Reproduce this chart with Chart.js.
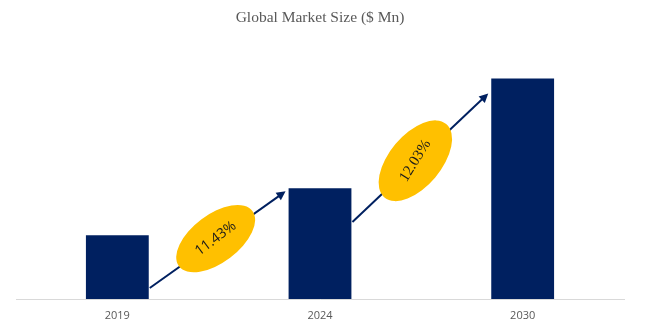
<!DOCTYPE html>
<html>
<head>
<meta charset="utf-8">
<script src="https://cdn.jsdelivr.net/npm/chart.js@4"></script>
<style>
html,body{margin:0;padding:0;background:#fff;}
#wrap{width:649px;height:326px;}
</style>
</head>
<body>
<div id="wrap"><canvas id="c" width="649" height="326"></canvas></div>
<script>
const categories = ["2019", "2024", "2030"];
const marketSize = [64, 111, 221];
const cagrLabels = ["11.43%", "12.03%"];

const NAVY = "#002060";
const GOLD = "#FFC000";

const annotPlugin = {
  id: "cagrArrows",
  afterDatasetsDraw(chart) {
    const ctx = chart.ctx;
    const bars = chart.getDatasetMeta(0).data;
    const cfg = [
      {from:0, to:1, sUp:11, eDown:3, rx:46, ry:24, rot:-37, trot:-37, font:"14px 'Open Sans', 'Liberation Sans', sans-serif", dx:-2, dy:-1},
      {from:1, to:2, sUp:77, eDown:15, rx:48, ry:26, rot:-50, trot:-58, font:"15px 'Liberation Serif', serif", dx:-5, dy:3}
    ];
    cfg.forEach((c, i) => {
      const a = bars[c.from], b = bars[c.to];
      const sx = a.x + a.width/2 + 1;
      const sy = a.base - c.sUp;
      const ex = b.x - b.width/2 - 3;
      const ey = b.y + c.eDown;
      const ang = Math.atan2(ey - sy, ex - sx);
      ctx.save();
      ctx.strokeStyle = NAVY;
      ctx.fillStyle = NAVY;
      ctx.lineWidth = 2;
      ctx.beginPath();
      ctx.moveTo(sx, sy);
      ctx.lineTo(ex - 7*Math.cos(ang), ey - 7*Math.sin(ang));
      ctx.stroke();
      ctx.beginPath();
      ctx.moveTo(ex, ey);
      ctx.lineTo(ex - 9*Math.cos(ang) + 4.5*Math.sin(ang), ey - 9*Math.sin(ang) - 4.5*Math.cos(ang));
      ctx.lineTo(ex - 9*Math.cos(ang) - 4.5*Math.sin(ang), ey - 9*Math.sin(ang) + 4.5*Math.cos(ang));
      ctx.closePath();
      ctx.fill();
      const cx = (sx + ex)/2 + c.dx, cy = (sy + ey)/2 + c.dy;
      ctx.fillStyle = GOLD;
      ctx.beginPath();
      ctx.ellipse(cx, cy, c.rx, c.ry, c.rot*Math.PI/180, 0, Math.PI*2);
      ctx.fill();
      ctx.translate(cx, cy);
      ctx.rotate(c.trot*Math.PI/180);
      ctx.fillStyle = "#1a1a1a";
      ctx.font = c.font;
      ctx.textAlign = "center";
      ctx.textBaseline = "middle";
      ctx.fillText(cagrLabels[i], 0, 0);
      ctx.restore();
    });
  }
};

new Chart(document.getElementById("c"), {
  type: "bar",
  data: {
    labels: categories,
    datasets: [{
      data: marketSize,
      backgroundColor: NAVY,
      borderWidth: 0,
      categoryPercentage: 1.0,
      barPercentage: 0.31
    }]
  },
  options: {
    responsive: false,
    animation: false,
    events: [],
    layout: { padding: { left: 16, right: 25, top: 0, bottom: 0 } },
    plugins: {
      legend: { display: false },
      tooltip: { enabled: false },
      title: {
        display: true,
        text: "Global Market Size ($ Mn)",
        color: "#595959",
        font: { family: "'Liberation Serif', serif", size: 15.5, weight: "normal" },
        padding: { top: 9, bottom: 13 }
      }
    },
    scales: {
      x: {
        grid: { display: false, drawTicks: false },
        border: { display: true, color: "#d9d9d9", width: 1 },
        ticks: { color: "#595959", font: { family: "'Open Sans', sans-serif", size: 11 }, padding: 10 },
        afterFit(scale) { scale.height = 27; }
      },
      y: {
        display: false,
        min: 0,
        max: 259
      }
    }
  },
  plugins: [annotPlugin]
});
</script>
</body>
</html>
